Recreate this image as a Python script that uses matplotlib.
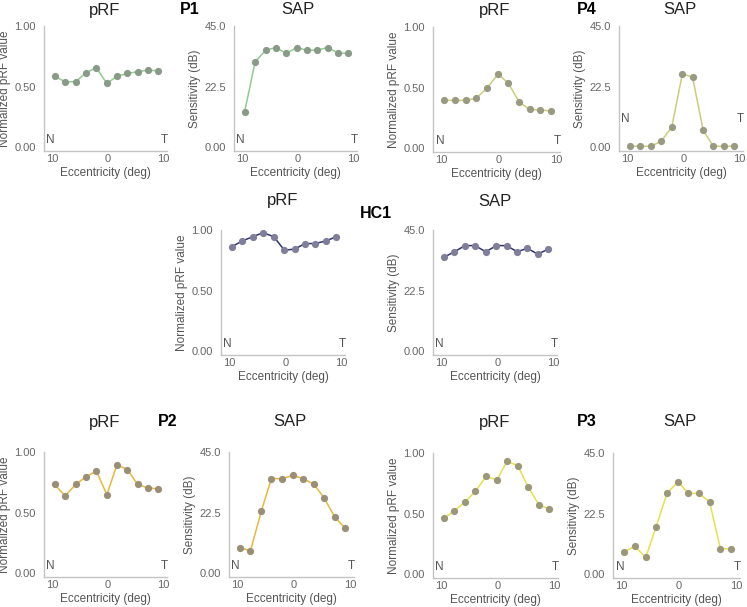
import numpy as np
import matplotlib.pyplot as plt

plt.rcParams['font.family'] = ['Liberation Sans', 'DejaVu Sans']

W, H = 747, 607

# eccentricity of the 11 test points (deg), nasal -> temporal
ecc = [-9.6, -7.7, -5.8, -4.0, -2.1, -0.2, 1.6, 3.5, 5.3, 7.2, 9.0]

p1_prf = [0.585, 0.539, 0.539, 0.613, 0.655, 0.525, 0.585, 0.608, 0.622, 0.635, 0.630]
p1_sap = [13.0, 31.7, 36.0, 37.0, 34.8, 37.0, 36.0, 36.0, 37.0, 35.0, 34.8]
p4_prf = [0.394, 0.394, 0.394, 0.411, 0.494, 0.611, 0.536, 0.381, 0.319, 0.314, 0.306]
p4_sap = [0.3, 0.3, 0.3, 2.1, 7.4, 27.2, 26.0, 6.3, 0.3, 0.3, 0.3]
hc1_prf = [0.861, 0.910, 0.945, 0.978, 0.945, 0.833, 0.842, 0.888, 0.888, 0.910, 0.943]
hc1_sap = [34.8, 36.9, 39.2, 39.2, 36.9, 39.2, 39.2, 36.9, 38.2, 36.0, 37.9]
p2_prf = [0.733, 0.636, 0.733, 0.793, 0.843, 0.647, 0.895, 0.854, 0.733, 0.702, 0.697]
p2_sap = [9.4, 8.3, 22.9, 35.1, 35.1, 36.3, 35.1, 33.0, 28.0, 20.8, 16.7]
p3_prf = [0.460, 0.523, 0.598, 0.683, 0.807, 0.777, 0.931, 0.895, 0.722, 0.573, 0.537]
p3_sap = [8.1, 10.3, 6.2, 17.6, 30.0, 34.3, 30.0, 30.0, 26.8, 9.4, 9.4]

prf_ticks = [0.0, 0.5, 1.0]
prf_ticklabels = ['0.00', '0.50', '1.00']
sap_ticks = [0.0, 22.5, 45.0]
sap_ticklabels = ['0.00', '22.5', '45.0']
x_ticks = [-10, 0, 10]
x_ticklabels = ['10', '0', '10']

fig = plt.figure(figsize=(W / 100, H / 100), dpi=100)


def px(x0, y0, x1, y1):
    # pixel box (top-left origin) -> figure fraction rect
    return [x0 / W, 1 - y1 / H, (x1 - x0) / W, (y1 - y0) / H]


def panel(box, y, kind, line_c, mark_c, nt_y=None):
    ax = fig.add_axes(px(*box))
    ax.plot(ecc, y, color=line_c, lw=1.1, zorder=2)
    ax.plot(ecc, y, 'o', color=mark_c, ms=5.2, mec='none', zorder=3)
    if kind == 'prf':
        ymax, ticks, labels, ylab = 1.0, prf_ticks, prf_ticklabels, 'Normalized pRF value'
    else:
        ymax, ticks, labels, ylab = 45.0, sap_ticks, sap_ticklabels, 'Sensitivity (dB)'
    ax.set_ylim(-0.033 * ymax, ymax)
    ax.set_xlim(-11.5, 10.6)
    ax.set_yticks(ticks)
    ax.set_yticklabels(labels)
    ax.set_xticks(x_ticks)
    ax.set_xticklabels(x_ticklabels)
    ax.tick_params(length=0, labelsize=8, colors='#666666', pad=6)
    ax.tick_params(axis='x', pad=2)
    for s in ['top', 'right']:
        ax.spines[s].set_visible(False)
    for s in ['left', 'bottom']:
        ax.spines[s].set_color('#c4c4c4')
        ax.spines[s].set_linewidth(1.0)
    ax.set_ylabel(ylab, fontsize=8.5, color='#555555')
    # right side of the rotated label ~33 px left of the spine
    ax.yaxis.set_label_coords(-33 / (box[2] - box[0]), 0.5)
    ax.set_xlabel('Eccentricity (deg)', fontsize=8.5, color='#555555', labelpad=2)
    if nt_y is None:
        nt_y = 0.055 * ymax
    ax.text(-10.3, nt_y, 'N', fontsize=8.5, color='#555555', ha='center', va='center')
    ax.text(10.2, nt_y, 'T', fontsize=8.5, color='#555555', ha='center', va='center')
    return ax


def title(x, y, s, bold=False):
    fig.text(x / W, 1 - y / H, s, ha='center', va='center',
             fontsize=12 if not bold else 11.5,
             color='#222222' if not bold else 'black',
             fontweight='bold' if bold else 'normal')


# top row: P1 and P4
panel((44, 26, 167, 151), p1_prf, 'prf', '#8fcc8f', '#8a9a88')
panel((234, 26, 357, 151), p1_sap, 'sap', '#8fcc8f', '#8a9a88')
panel((433, 27, 560, 152), p4_prf, 'prf', '#cccc7a', '#9a9a82')
panel((619, 26, 743, 151), p4_sap, 'sap', '#cccc7a', '#9a9a82', nt_y=10.4)

# middle row: HC1
panel((221, 230, 345, 355), hc1_prf, 'prf', '#33336e', '#7f7f9c')
panel((433, 230, 557, 355), hc1_sap, 'sap', '#33336e', '#7f7f9c')

# bottom row: P2 and P3
panel((44, 452, 167, 577), p2_prf, 'prf', '#e8b83a', '#9a8f76')
panel((229, 452, 354, 577), p2_sap, 'sap', '#e8b83a', '#9a8f76')
panel((433, 453, 558, 578), p3_prf, 'prf', '#e8e04a', '#9a9878')
panel((613, 453, 740, 578), p3_sap, 'sap', '#e8e04a', '#9a9878')

title(105, 10, 'pRF')
title(298, 10, 'SAP')
title(495, 10, 'pRF')
title(680, 10, 'SAP')
title(283, 201, 'pRF')
title(495, 201, 'SAP')
title(105, 422, 'pRF')
title(290, 422, 'SAP')
title(495, 422, 'pRF')
title(680, 422, 'SAP')

title(190, 10, 'P1', bold=True)
title(587, 10, 'P4', bold=True)
title(376, 213, 'HC1', bold=True)
title(168, 422, 'P2', bold=True)
title(587, 422, 'P3', bold=True)

fig.savefig('out.png', dpi=100)
